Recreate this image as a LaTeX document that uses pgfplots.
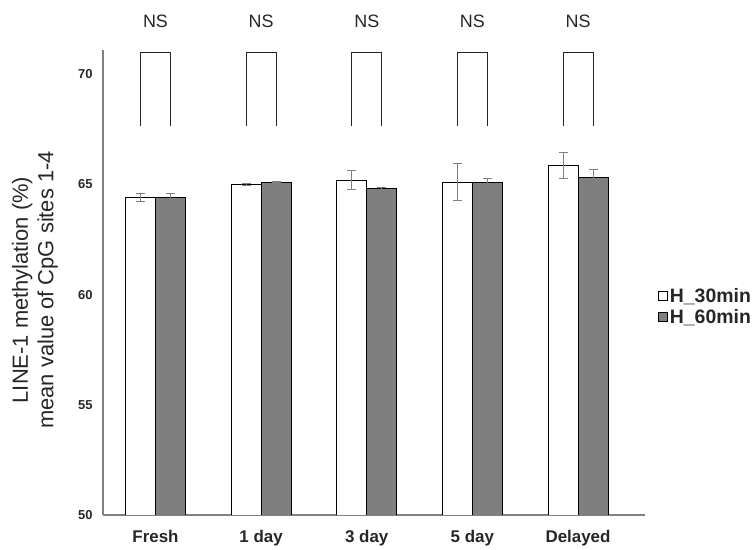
\documentclass[border=0pt]{standalone}
\usepackage{pgfplots}
\pgfplotsset{compat=1.18}
\usepackage{fontspec}
\setmainfont{Liberation Sans}
\definecolor{barg}{HTML}{7F7F7F}
\definecolor{txt}{HTML}{262626}
\definecolor{axg}{HTML}{808080}
\begin{document}
\begin{tikzpicture}
\useasboundingbox (0bp,0bp) rectangle (752bp,550bp);
\begin{axis}[
  at={(103bp,35bp)}, anchor=south west,
  scale only axis, width=542bp, height=465bp,
  xmin=-0.497, xmax=4.634, ymin=50, ymax=71.1,
  clip mode=individual,
  /pgf/number format/assume math mode=true,
  axis x line*=bottom, axis y line*=left,
  axis line style={axg, line width=1.2bp, -},
  major tick length=0pt,
  xtick={0,1,2,3,4},
  xticklabels={Fresh,1 day,3 day,5 day,Delayed},
  ytick={50,55,60,65,70},
  xticklabel style={font=\fontsize{17}{20}\selectfont\bfseries, text=txt, yshift=-12bp},
  yticklabel style={font=\fontsize{13}{15}\selectfont\bfseries, text=txt, xshift=-7bp},
  ylabel={LINE-1 methylation (\%)\\mean value of CpG sites 1-4},
  ylabel style={at={(rel axis cs:-0.1255,0.484)}, anchor=center, align=center,
    font=\fontsize{22}{25.5}\selectfont, text=txt},
  legend style={at={(rel axis cs:1.024,0.448)}, anchor=west, draw=none, fill=none,
    font=\fontsize{19.5}{23}\selectfont\bfseries, text=txt, legend cell align=left,
    inner sep=0pt, row sep=1.5bp},
  legend image code/.code={\draw[#1,draw=black,line width=0.7bp] (0bp,-4.5bp) rectangle (9bp,4.5bp);},
  error bars/error bar style={axg, line width=1bp},
  error bars/error mark options={rotate=90, axg, mark size=4.5bp, line width=1bp},
]
\addplot[ybar, bar width=0.284, bar shift=0, fill=white, draw=black, line width=0.9bp,
  error bars/.cd, y dir=both, y explicit]
  coordinates {(-0.142,64.4) +- (0,0.18) (0.858,65.0) +- (0,0.05) (1.858,65.2) +- (0,0.43) (2.858,65.1) +- (0,0.85) (3.858,65.85) +- (0,0.6)};
\addlegendentry{H\_30min}
\addplot[ybar, bar width=0.284, bar shift=0, fill=barg, draw=black, line width=0.9bp,
  error bars/.cd, y dir=both, y explicit]
  coordinates {(0.142,64.4) +- (0,0.18) (1.142,65.1) +- (0,0.03) (2.142,64.8) +- (0,0.05) (3.142,65.1) +- (0,0.15) (4.142,65.3) +- (0,0.38)};
\addlegendentry{H\_60min}
\addplot[forget plot, sharp plot, no markers, color=txt, line width=0.9bp] coordinates {(-0.142,67.64) (-0.142,71.0) (0.142,71.0) (0.142,67.64)};
\addplot[forget plot, sharp plot, no markers, color=txt, line width=0.9bp] coordinates {(0.858,67.64) (0.858,71.0) (1.142,71.0) (1.142,67.64)};
\addplot[forget plot, sharp plot, no markers, color=txt, line width=0.9bp] coordinates {(1.858,67.64) (1.858,71.0) (2.142,71.0) (2.142,67.64)};
\addplot[forget plot, sharp plot, no markers, color=txt, line width=0.9bp] coordinates {(2.858,67.64) (2.858,71.0) (3.142,71.0) (3.142,67.64)};
\addplot[forget plot, sharp plot, no markers, color=txt, line width=0.9bp] coordinates {(3.858,67.64) (3.858,71.0) (4.142,71.0) (4.142,67.64)};
\node[font=\fontsize{18}{20}\selectfont, text=txt] at (axis cs:0,72.4) {NS};
\node[font=\fontsize{18}{20}\selectfont, text=txt] at (axis cs:1,72.4) {NS};
\node[font=\fontsize{18}{20}\selectfont, text=txt] at (axis cs:2,72.4) {NS};
\node[font=\fontsize{18}{20}\selectfont, text=txt] at (axis cs:3,72.4) {NS};
\node[font=\fontsize{18}{20}\selectfont, text=txt] at (axis cs:4,72.4) {NS};
\end{axis}
\end{tikzpicture}
\end{document}
